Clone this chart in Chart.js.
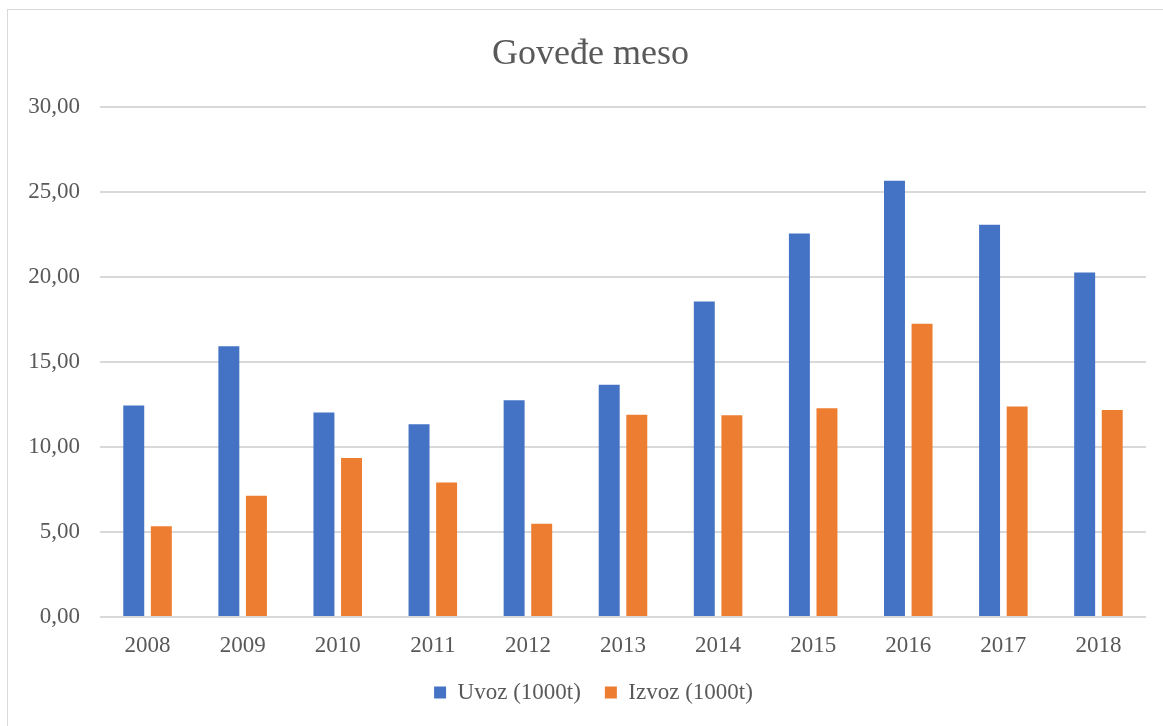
<!DOCTYPE html>
<html lang="sr">
<head>
    <meta charset="UTF-8">
    <title>Goveđe meso</title>
    <script src="https://cdn.jsdelivr.net/npm/chart.js"></script>
    <style>
        body { margin: 0; background: #fff; }
        #frame {
            position: absolute; left: 7px; top: 9px;
            width: 1160px; height: 720px;
            border: 1px solid #d9d9d9; box-sizing: border-box;
        }
        #wrap { position: absolute; left: 1px; top: 1px; width: 1156px; height: 716px; }
    </style>
</head>
<body>
    <div id="frame"><div id="wrap"><canvas id="chart"></canvas></div></div>

    <script>
        const years = ['2008', '2009', '2010', '2011', '2012', '2013', '2014', '2015', '2016', '2017', '2018'];
        const uvoz = [12.45, 15.94, 12.04, 11.35, 12.75, 13.67, 18.57, 22.57, 25.67, 23.08, 20.28];
        const izvoz = [5.34, 7.14, 9.35, 7.92, 5.49, 11.90, 11.87, 12.29, 17.26, 12.38, 12.18];

        const serif = "'Liberation Serif', 'Times New Roman', serif";
        const grey = '#595959';

        // Excel centres title and legend on the whole frame, not on the padded area
        const nudgeBoxes = {
            id: 'nudgeBoxes',
            afterLayout(chart) {
                const shift = (box, dx) => { if (box) { box.left += dx; box.right += dx; } };
                shift(chart.titleBlock, 13);
                shift(chart.legend, 16);
            }
        };

        new Chart(document.getElementById('chart'), {
            type: 'bar',
            data: {
                labels: years,
                datasets: [
                    { label: 'Uvoz (1000t)', data: uvoz, backgroundColor: '#4472C4' },
                    { label: 'Izvoz (1000t)', data: izvoz, backgroundColor: '#ED7D31' }
                ]
            },
            plugins: [nudgeBoxes],
            options: {
                responsive: true,
                maintainAspectRatio: false,
                animation: false,
                categoryPercentage: 0.58,
                barPercentage: 0.76,
                layout: { padding: { left: 0, right: 19, top: 22, bottom: 13 } },
                plugins: {
                    title: {
                        display: true,
                        text: 'Goveđe meso',
                        color: grey,
                        font: { family: serif, size: 36, weight: 'normal' },
                        padding: { top: 0, bottom: 31 }
                    },
                    legend: {
                        position: 'bottom',
                        labels: {
                            color: grey,
                            font: { family: serif, size: 23 },
                            boxWidth: 12,
                            boxHeight: 12,
                            padding: 24
                        }
                    },
                    tooltip: { enabled: false }
                },
                scales: {
                    x: {
                        // fixed axis height so the legend sits close to the year labels
                        afterFit: scale => { scale.height = 40; },
                        grid: { display: false, drawTicks: false },
                        border: { display: false },
                        ticks: { color: grey, font: { family: serif, size: 23, lineHeight: 1 }, padding: 17 }
                    },
                    y: {
                        min: 0,
                        max: 30,
                        afterFit: scale => { scale.width = 91; },
                        grid: { color: '#d9d9d9', lineWidth: 2, drawTicks: false },
                        border: { display: false },
                        ticks: {
                            stepSize: 5,
                            color: grey,
                            padding: 20,
                            font: { family: serif, size: 23 },
                            callback: v => v.toFixed(2).replace('.', ',')
                        }
                    }
                }
            }
        });
    </script>
</body>
</html>
